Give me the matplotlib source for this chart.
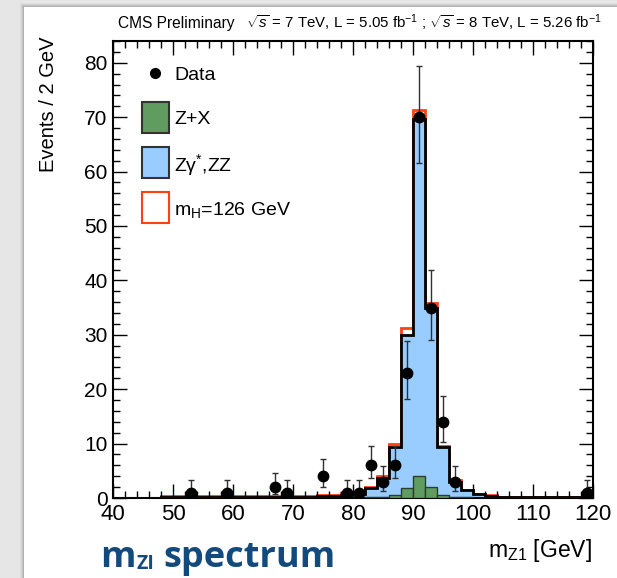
import numpy as np
import matplotlib.pyplot as plt
from matplotlib.patches import Rectangle
from matplotlib.lines import Line2D
from matplotlib.ticker import MultipleLocator

plt.rcParams['font.family'] = 'Liberation Sans'
plt.rcParams['mathtext.fontset'] = 'custom'
plt.rcParams['mathtext.rm'] = 'Liberation Sans'
plt.rcParams['mathtext.it'] = 'Liberation Sans:italic'
plt.rcParams['mathtext.bf'] = 'Liberation Sans:bold'

W, H = 617, 578

# 2 GeV bins from 40 to 120
edges = np.arange(40, 122, 2)

# expected Z+X per bin
zx = [0.0, 0.0, 0.0, 0.0, 0.0, 0.0, 0.0, 0.0, 0.0, 0.0,
      0.0, 0.0, 0.0, 0.0, 0.0, 0.0, 0.0, 0.0, 0.0, 0.0,
      0.05, 0.1, 0.2, 0.55, 1.9, 4.0, 2.0, 0.6, 0.25, 0.1,
      0.02, 0.02, 0.02, 0.02, 0.02, 0.02, 0.02, 0.02, 0.02, 0.02]
# expected Zgamma*, ZZ per bin
zz = [0.0, 0.0, 0.0, 0.0, 0.12, 0.12, 0.12, 0.12, 0.12, 0.12,
      0.12, 0.12, 0.12, 0.12, 0.12, 0.12, 0.12, 0.3, 0.3, 0.6,
      0.75, 1.7, 3.4, 8.75, 28.1, 65.7, 32.9, 8.7, 2.75, 1.3,
      0.68, 0.38, 0.13, 0.13, 0.13, 0.13, 0.13, 0.13, 0.13, 0.13]
# signal mH = 126 GeV per bin
higgs = [0.0, 0.0, 0.0, 0.0, 0.18, 0.18, 0.18, 0.18, 0.18, 0.18,
         0.18, 0.18, 0.18, 0.18, 0.18, 0.18, 0.18, 0.18, 0.18, 0.25,
         0.25, 0.3, 0.4, 0.6, 1.2, 1.6, 0.9, 0.3, 0.3, 0.1,
         0.1, 0.1, 0.05, 0.05, 0.05, 0.05, 0.05, 0.05, 0.05, 0.05]

# observed events (bin centres) with poisson errors
data_x = [53, 59, 67, 69, 75, 79, 81, 83, 85, 87, 89, 91, 93, 95, 97, 119]
data_n = [1, 1, 2, 1, 4, 1, 1, 6, 3, 6, 23, 70, 35, 14, 3, 1]
err_lo = [0.83, 0.83, 1.29, 0.83, 1.91, 0.83, 0.83, 2.38, 1.63, 2.38, 4.77, 8.35, 5.89, 3.70, 1.63, 0.83]
err_hi = [2.30, 2.30, 2.64, 2.30, 3.16, 2.30, 2.30, 3.58, 2.92, 3.58, 5.86, 9.40, 6.96, 4.83, 2.92, 2.30]

green = '#609c60'
lblue = '#99ccff'
red = '#ff4010'

bkg = np.array(zz) + np.array(zx)
tot = bkg + np.array(higgs)


def fx(x):
    return x / W


def fy(y):
    return 1 - y / H


fig = plt.figure(figsize=(W / 100, H / 100), dpi=100, facecolor='#e6e6e6')

# slide card with a soft shadow
for k, a in [(4, 0.03), (3, 0.05), (2, 0.07), (1, 0.09)]:
    fig.patches.append(Rectangle((fx(24 - k), 0), 1, fy(7 - k), transform=fig.transFigure,
                                 facecolor='black', alpha=a, edgecolor='none', zorder=-3))
fig.patches.append(Rectangle((fx(24), 0), 1, fy(7), transform=fig.transFigure,
                             facecolor='white', edgecolor='none', zorder=-2))

ax = fig.add_axes([fx(113), fy(498), fx(593) - fx(113), fy(41) - fy(498)])
ax.set_facecolor('none')

ax.stairs(tot, edges, color=red, lw=2, zorder=1)
ax.stairs(bkg, edges, fill=True, color=lblue, zorder=2)
ax.stairs(bkg, edges, color='black', lw=2, zorder=3)
ax.bar(edges[:-1] + 1, zx, width=2, color=green, edgecolor='#2a3f2a', lw=1, zorder=4)

ax.errorbar(data_x, data_n, yerr=[err_lo, err_hi], fmt='o', ms=7.5, color='black',
            ecolor='#303030', elinewidth=1, capsize=2.2, capthick=1, zorder=6)

ax.set_xlim(40, 120)
ax.set_ylim(0, 84)
ax.xaxis.set_major_locator(MultipleLocator(10))
ax.xaxis.set_minor_locator(MultipleLocator(2))
ax.yaxis.set_major_locator(MultipleLocator(10))
ax.yaxis.set_minor_locator(MultipleLocator(2))
ax.tick_params(which='both', direction='in', top=True, right=True, width=1, color='black')
ax.tick_params(which='major', length=10)
ax.tick_params(which='minor', length=5)
ax.tick_params(axis='x', labelsize=16, pad=4)
ax.tick_params(axis='y', labelsize=15, pad=4)
for s in ax.spines.values():
    s.set_linewidth(1.5)

# legend drawn by hand, rows at fixed pixel heights
fig.add_artist(Line2D([fx(155)], [fy(73)], marker='o', color='black', ms=7,
                      transform=fig.transFigure))
boxes = [(green, '#333333', 102), (lblue, '#333333', 147), ('white', red, 192)]
for fc, ec, top in boxes:
    fig.patches.append(Rectangle((fx(142), fy(top + 31)), fx(27), 31 / H, transform=fig.transFigure,
                                 facecolor=fc, edgecolor=ec, lw=1.5, zorder=5))
leg_labels = ['Data', 'Z+X', 'Zγ$^{*}$,ZZ', 'm$_{\\mathrm{H}}$=126 GeV']
for lab, yc in zip(leg_labels, [73, 118, 162, 207]):
    fig.text(fx(174), fy(yc), lab, ha='left', va='center_baseline', fontsize=14)

fig.text(fx(48), fy(36), 'Events / 2 GeV', rotation=90, ha='center', va='top', fontsize=14.5)
fig.text(fx(592), fy(557), 'm$_{\\mathrm{Z1}}$ [GeV]', ha='right', va='baseline', fontsize=16.5)

fig.text(fx(118), fy(28), 'CMS Preliminary', ha='left', va='baseline', fontsize=11.2)
fig.text(fx(602), fy(28),
         '$\\sqrt{s}$ = 7 TeV, L = 5.05 fb$^{-1}$ ; $\\sqrt{s}$ = 8 TeV, L = 5.26 fb$^{-1}$',
         ha='right', va='baseline', fontsize=10.8)

# slide caption, pieces placed one after another
blue = '#124a7e'
r = fig.canvas.get_renderer()
x = fx(100)
for txt, size, base, gap in [('m', 26, 567, 1), ('ZI', 14, 569, 9), ('spectrum', 26, 567, 0)]:
    t = fig.text(x, fy(base), txt, ha='left', va='baseline', fontsize=size,
                 fontweight='bold', family='Open Sans', color=blue)
    x = t.get_window_extent(r).x1 / fig.dpi / fig.get_figwidth() + fx(gap)

fig.savefig('out.png', dpi=100, facecolor=fig.get_facecolor())
